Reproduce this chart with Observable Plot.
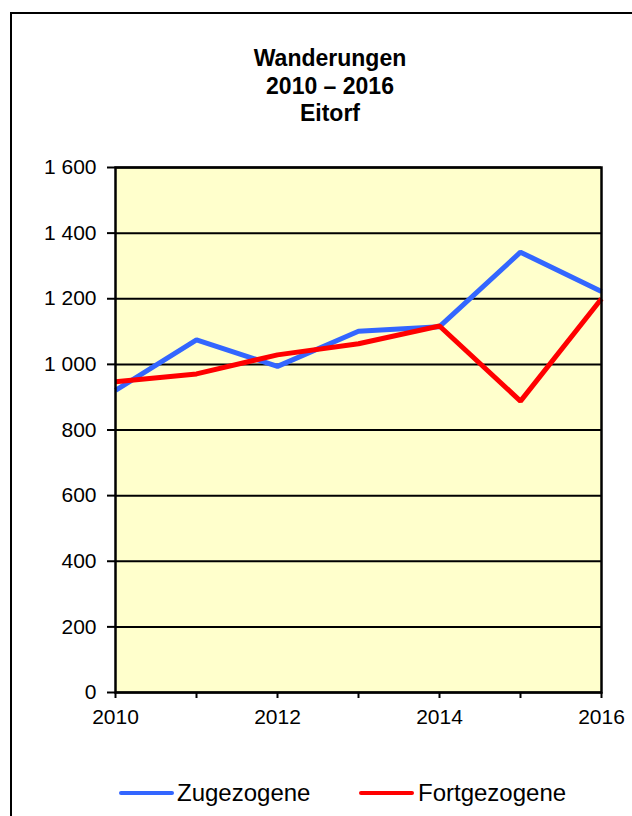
<!DOCTYPE html>
<html><head><meta charset="utf-8">
<script src="https://cdn.jsdelivr.net/npm/d3@7"></script>
<script src="https://cdn.jsdelivr.net/npm/@observablehq/plot@0.6"></script>
<style>
html,body{margin:0;padding:0;background:#fff;overflow:hidden;width:632px;height:816px}
#wrap{position:relative;width:632px;height:816px;overflow:hidden;font-family:"Liberation Sans",Arial,sans-serif;color:#000}
#border{position:absolute;left:10px;top:12px;width:660px;height:840px;border:2.5px solid #000;box-sizing:border-box}
#title{position:absolute;left:0;width:660px;top:45px;text-align:center;font-weight:bold;font-size:23px;line-height:27.5px}
#chart{position:absolute;left:0;top:0}
.lg-line{position:absolute;height:4.5px;border-radius:3px}
.lg-text{position:absolute;font-size:24px;line-height:24px;white-space:nowrap}
</style></head>
<body>
<div id="wrap">
  <div id="border"></div>
  <div id="chart"></div>
  <div id="title"></div>
  <div id="legend"></div>
</div>
<script>
const years = [2010, 2011, 2012, 2013, 2014, 2015, 2016];
const zugezogene = [921, 1075, 994, 1101, 1115, 1342, 1222];
const fortgezogene = [947, 971, 1029, 1063, 1117, 888, 1200];
const seriesNames = ["Zugezogene", "Fortgezogene"];
const seriesColors = ["#3366FF", "#FF0000"];
const yTicks = [0, 200, 400, 600, 800, 1000, 1200, 1400, 1600];
const titleLines = ["Wanderungen", "2010 \u2013 2016", "Eitorf"];

const rows = [];
years.forEach((y, i) => rows.push({year: y, value: zugezogene[i], series: seriesNames[0]}));
years.forEach((y, i) => rows.push({year: y, value: fortgezogene[i], series: seriesNames[1]}));

const fmtY = d => d3.format(",")(d).replace(/,/g, " ");
const fmtX = d => (d % 2 === 0 ? String(d) : "");

const chart = Plot.plot({
  width: 632, height: 816,
  marginTop: 167, marginBottom: 124, marginLeft: 115, marginRight: 31,
  style: {fontFamily: "'Liberation Sans', Arial, sans-serif", fontSize: "21px", color: "#000", background: "transparent", overflow: "visible"},
  x: {domain: [2010, 2016]},
  y: {domain: [0, 1600]},
  color: {domain: seriesNames, range: seriesColors},
  marks: [
    Plot.frame({fill: "#FFFFCC"}),
    Plot.ruleY(yTicks, {stroke: "#000", strokeWidth: 2}),
    Plot.line(rows, {x: "year", y: "value", z: "series", stroke: "series", strokeWidth: 5, strokeLinejoin: "miter", strokeLinecap: "butt"}),
    Plot.frame({stroke: "#000", strokeWidth: 2.5}),
    Plot.axisY({ticks: yTicks, tickSize: 8, tickPadding: 11, tickFormat: fmtY, fontSize: 21, strokeWidth: 2, label: null}),
    Plot.axisX({ticks: years, tickSize: 6, tickPadding: 11, tickFormat: fmtX, fontSize: 21, strokeWidth: 2, label: null})
  ]
});
document.getElementById("chart").appendChild(chart);

document.getElementById("title").innerHTML = titleLines.map(t => `<div>${t}</div>`).join("");

const legend = document.getElementById("legend");
const lgPos = [{line: 119, text: 177}, {line: 359, text: 418}];
seriesNames.forEach((name, i) => {
  const l = document.createElement("div");
  l.className = "lg-line";
  l.style.left = lgPos[i].line + "px";
  l.style.width = "55px";
  l.style.top = "790.5px";
  l.style.background = seriesColors[i];
  legend.appendChild(l);
  const t = document.createElement("div");
  t.className = "lg-text";
  t.style.left = lgPos[i].text + "px";
  t.style.top = "781px";
  t.textContent = name;
  legend.appendChild(t);
});
</script>
</body></html>
